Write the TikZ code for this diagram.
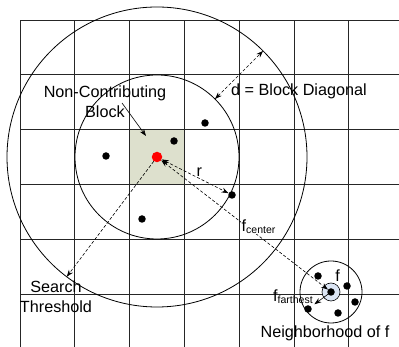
\documentclass[tikz,border=0pt]{standalone}
\usepackage{fontspec}
\setmainfont{Liberation Sans}
\usetikzlibrary{arrows.meta, positioning, calc}
\definecolor{blockfill}{RGB}{221,224,205}
\definecolor{nbfill}{RGB}{220,230,245}
\newcommand{\lsub}[1]{\raisebox{-2pt}{\fontsize{10.5}{12}\selectfont #1}}

\begin{document}
\begin{tikzpicture}[x=1pt, y=1pt, font=\fontsize{16.2}{20}\selectfont,
  grid/.style={line width=0.8pt, draw=black!85},
  ring/.style={line width=0.8pt, draw=black},
  dot/.style={circle, fill=black, inner sep=0pt, minimum size=7.5pt},
  lbl/.style={inner sep=0pt, align=center},
  a/.style={-{Stealth[length=7pt, width=5pt]}, line width=0.6pt},
  ad/.style={a, dash pattern=on 3pt off 2pt},
  add/.style={{Stealth[length=7pt, width=5pt]}-{Stealth[length=7pt, width=5pt]},
              line width=0.6pt, dash pattern=on 3pt off 2pt}]
  \useasboundingbox (0,0) rectangle (399,347);
  % blocks
  \fill[blockfill] (129.6,162.6) rectangle (184.4,217.4);
  \foreach \i in {0,...,6}
    \draw[grid] (20+54.8*\i,0) -- (20+54.8*\i,327);
  \foreach \j in {0,...,5}
    \draw[grid] (20,327-54.8*\j) -- (399,327-54.8*\j);

  % search regions
  \coordinate (c) at (157,190);
  \draw[ring] (c) circle[radius=150pt];
  \draw[ring] (c) circle[radius=82pt];
  \node[dot, fill=red, minimum size=10.5pt] (ctr) at (c) {};
  \node[dot] (p1) at (174,206) {};
  \node[dot] (p2) at (205,224) {};
  \node[dot] (p3) at (106,191) {};
  \node[dot] (p4) at (232,152) {};
  \node[dot] (p5) at (142,128) {};

  % neighborhood of f
  \coordinate (fc) at (331,55);
  \draw[ring] (fc) circle[radius=31pt];
  \draw[fill=nbfill, line width=0.6pt] (fc) circle[radius=9pt];
  \node[dot] (fdot) at (fc) {};
  \node[dot] (n1) at (318,71) {};
  \node[dot] (n2) at (347,61) {};
  \node[dot] (n3) at (355,45) {};
  \node[dot] (n4) at (338,34) {};
  \node[dot] (n5) at (308,38) {};

  % labels
  \node[lbl] (ncb) at (105,245) {Non-Contributing\\Block};
  \node[lbl, anchor=base west] (diag) at (231,251) {d = Block Diagonal};
  \node[lbl, anchor=base west] (rlbl) at (196.5,170.3) {r};
  \node[lbl] (thr) at (56,50.5) {Search\\Threshold};
  \node[lbl, anchor=base] (flbl) at (337.5,65.3) {f};
  \node[lbl, anchor=base west] (far) at (273,45) {f\lsub{farthest}};
  \node[lbl, anchor=base] (nbh) at (325,9.7) {Neighborhood of f};

  % connectors
  \coordinate (ncbtail) at (122,244);
  \coordinate (ncbtip) at (146,211);
  \coordinate (din) at ($(c)+(45:82pt)$);
  \coordinate (dout) at ($(c)+(45:150pt)$);
  \coordinate (thrtip) at ($(c)+(233:150pt)$);
  \draw[a] (ncbtail) -- (ncbtip);
  \draw[add] (din) -- (dout);
  \draw[add] (ctr) -- (p4);
  \draw[ad] (ctr) -- (thrtip);
  \draw[add] (ctr) -- (fdot);
  \draw[a, shorten >=4pt] (fdot) -- (n5);
  \node[lbl, fill=white, inner sep=0.5pt, anchor=base west] (fcen) at (241,115.3) {f\lsub{center}};
\end{tikzpicture}
\end{document}
